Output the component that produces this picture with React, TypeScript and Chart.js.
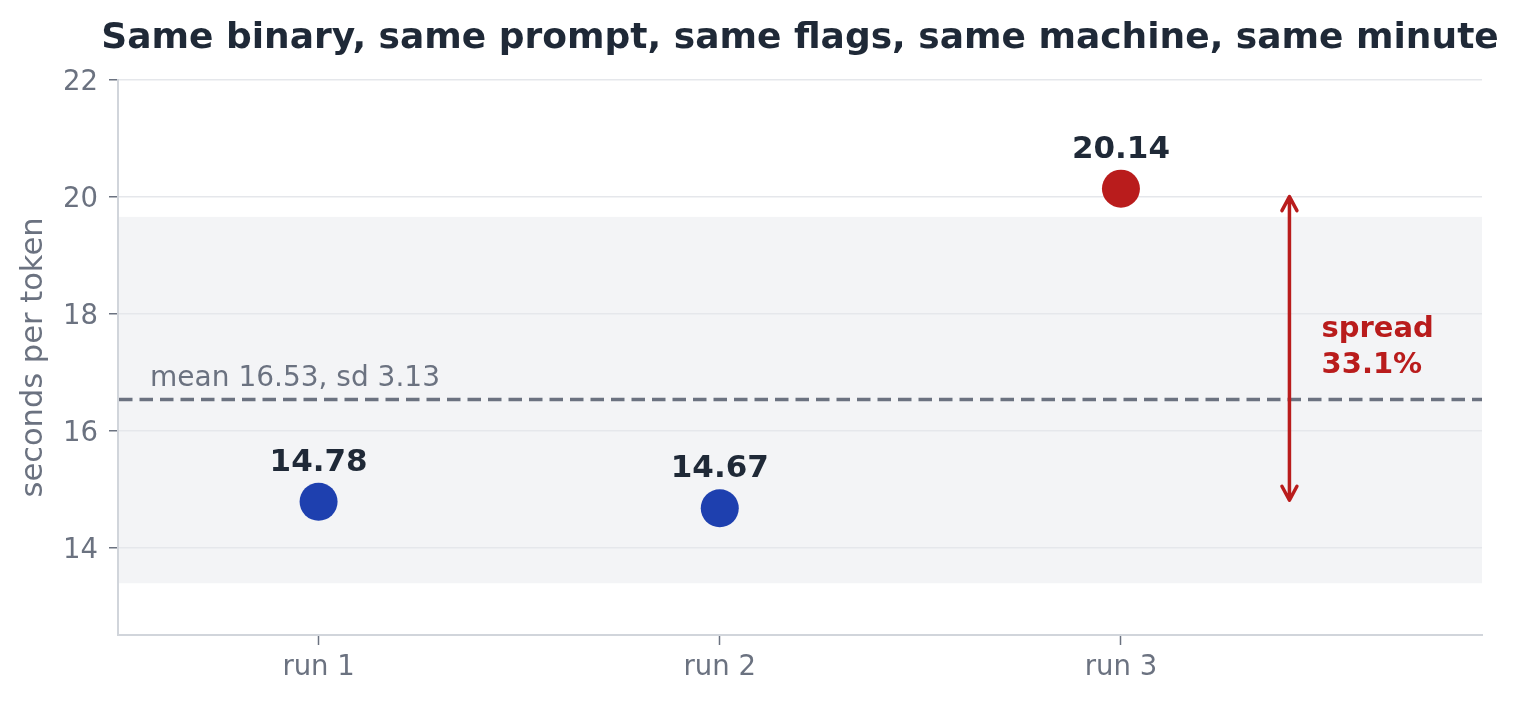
import React, { useEffect, useRef } from 'react';
import { Chart, registerables } from 'chart.js';

Chart.register(...registerables);

const RUNS = ['run 1', 'run 2', 'run 3'];
const SECONDS = [14.78, 14.67, 20.14];
const POINT_COLORS = ['#1e40af', '#1e40af', '#b91c1c'];
const Y_TICKS = [14, 16, 18, 20, 22];
const TITLE = 'Same binary, same prompt, same flags, same machine, same minute';
const Y_LABEL = 'seconds per token';

const FONT = '"DejaVu Sans", sans-serif';
const INK = '#1f2937';
const MUTED = '#6b7280';
const RED = '#b91c1c';
const GRID = '#e5e7eb';
const SPINE = '#d1d5db';
const BAND = '#f3f4f6';

// stats straight from the runs
const mean = SECONDS.reduce((a, b) => a + b, 0) / SECONDS.length;
const sd = Math.sqrt(SECONDS.reduce((a, v) => a + (v - mean) ** 2, 0) / (SECONDS.length - 1));
const lo = Math.min(...SECONDS);
const hi = Math.max(...SECONDS);
const spreadPct = ((hi - lo) / mean) * 100;

const ARROW_X = 2.42;
const SPREAD_TEXT_X = 2.5;
const MEAN_TEXT_X = -0.42;

const overlay = {
  id: 'overlay',
  beforeDraw(chart: any) {
    const { ctx, chartArea: a, scales } = chart;
    const y = scales.y;
    const top = y.getPixelForValue(mean + sd);
    const bottom = y.getPixelForValue(mean - sd);
    ctx.save();
    ctx.fillStyle = BAND;
    ctx.fillRect(a.left, top, a.right - a.left, bottom - top + 1);
    ctx.restore();
  },
  afterDatasetsDraw(chart: any) {
    const { ctx, chartArea: a, scales } = chart;
    const xs = scales.x;
    const ys = scales.y;
    ctx.save();

    // mean line + label
    const my = ys.getPixelForValue(mean);
    ctx.strokeStyle = MUTED;
    ctx.lineWidth = 3.5;
    ctx.setLineDash([13.5, 7]);
    ctx.beginPath();
    ctx.moveTo(a.left + 1, my);
    ctx.lineTo(a.right, my);
    ctx.stroke();
    ctx.setLineDash([]);
    ctx.fillStyle = MUTED;
    ctx.font = `28px ${FONT}`;
    ctx.textAlign = 'left';
    ctx.textBaseline = 'alphabetic';
    ctx.fillText(`mean ${mean.toFixed(2)}, sd ${sd.toFixed(2)}`, xs.getPixelForValue(MEAN_TEXT_X), my - 14);

    // value labels
    const meta = chart.getDatasetMeta(0);
    ctx.fillStyle = INK;
    ctx.font = `bold 31px ${FONT}`;
    ctx.textAlign = 'center';
    meta.data.forEach((pt: any, i: number) => {
      ctx.fillText(SECONDS[i].toFixed(2), pt.x, pt.y - 31);
    });

    // spread arrow
    const ax = xs.getPixelForValue(ARROW_X);
    const yTop = ys.getPixelForValue(hi) + 8;
    const yBot = ys.getPixelForValue(lo) - 8;
    ctx.strokeStyle = RED;
    ctx.lineWidth = 3.5;
    ctx.lineCap = 'round';
    ctx.lineJoin = 'round';
    ctx.beginPath();
    ctx.moveTo(ax, yTop);
    ctx.lineTo(ax, yBot);
    ctx.moveTo(ax - 7.5, yTop + 14);
    ctx.lineTo(ax, yTop);
    ctx.lineTo(ax + 7.5, yTop + 14);
    ctx.moveTo(ax - 7.5, yBot - 14);
    ctx.lineTo(ax, yBot);
    ctx.lineTo(ax + 7.5, yBot - 14);
    ctx.stroke();

    const mid = (ys.getPixelForValue(hi) + ys.getPixelForValue(lo)) / 2;
    ctx.fillStyle = RED;
    ctx.font = `bold 29px ${FONT}`;
    ctx.textAlign = 'left';
    const sx = xs.getPixelForValue(SPREAD_TEXT_X);
    ctx.fillText('spread', sx, mid - 11);
    ctx.fillText(`${spreadPct.toFixed(1)}%`, sx, mid + 25);

    ctx.restore();
  },
  afterDraw(chart: any) {
    const { ctx, chartArea: a } = chart;
    ctx.save();
    ctx.fillStyle = INK;
    ctx.font = `bold 36px ${FONT}`;
    ctx.textAlign = 'center';
    ctx.textBaseline = 'alphabetic';
    ctx.fillText(TITLE, (a.left + a.right) / 2, 48);
    ctx.restore();
  },
};

function RunChart(): React.JSX.Element {
  const canvasRef = useRef<HTMLCanvasElement | null>(null);

  useEffect(() => {
    if (!canvasRef.current) return;
    const chart = new Chart(canvasRef.current, {
      type: 'scatter',
      data: {
        datasets: [
          {
            data: SECONDS.map((v, i) => ({ x: i, y: v })),
            pointRadius: 19,
            pointHoverRadius: 19,
            pointBorderWidth: 0,
            pointBackgroundColor: POINT_COLORS,
            showLine: false,
          },
        ],
      },
      options: {
        animation: false,
        responsive: true,
        maintainAspectRatio: false,
        events: [],
        layout: { padding: { top: 80, right: 38, bottom: 0, left: 0 } },
        plugins: {
          legend: { display: false },
          tooltip: { enabled: false },
          title: { display: false },
        },
        scales: {
          x: {
            type: 'linear',
            min: -0.5,
            max: 2.9,
            afterBuildTicks: (scale: any) => {
              scale.ticks = RUNS.map((_, i) => ({ value: i }));
            },
            afterFit: (scale: any) => {
              scale.height = 67;
            },
            ticks: {
              autoSkip: false,
              color: MUTED,
              padding: 6,
              font: { family: FONT, size: 27.5 },
              callback: (v: any) => RUNS[Number(v)] ?? '',
            },
            grid: {
              drawOnChartArea: false,
              drawTicks: true,
              tickLength: 10,
              tickColor: MUTED,
              tickWidth: 1.5,
            },
            border: { color: SPINE, width: 2 },
          },
          y: {
            min: 12.5,
            max: 22,
            afterBuildTicks: (scale: any) => {
              scale.ticks = Y_TICKS.map((v) => ({ value: v }));
            },
            afterFit: (scale: any) => {
              scale.width = 118;
            },
            ticks: {
              autoSkip: false,
              color: MUTED,
              padding: 11,
              labelOffset: 3,
              font: { family: FONT, size: 27.5 },
              callback: (v: any) => String(v),
            },
            grid: {
              color: GRID,
              lineWidth: 1.5,
              tickLength: 9,
              tickColor: MUTED,
              tickWidth: 1.5,
            },
            border: { color: SPINE, width: 2 },
            title: {
              display: true,
              text: Y_LABEL,
              color: MUTED,
              font: { family: FONT, size: 30.5 },
              padding: { top: 16, bottom: 0 },
            },
          },
        },
      },
      plugins: [overlay],
    });
    return () => chart.destroy();
  }, []);

  return (
    <div style={{ position: 'relative', width: 1520, height: 702 }}>
      <canvas ref={canvasRef} />
    </div>
  );
}

export default function App(): React.JSX.Element {
  return (
    <>
      <style>{'body{margin:0;background:#fff;}'}</style>
      <RunChart />
    </>
  );
}
